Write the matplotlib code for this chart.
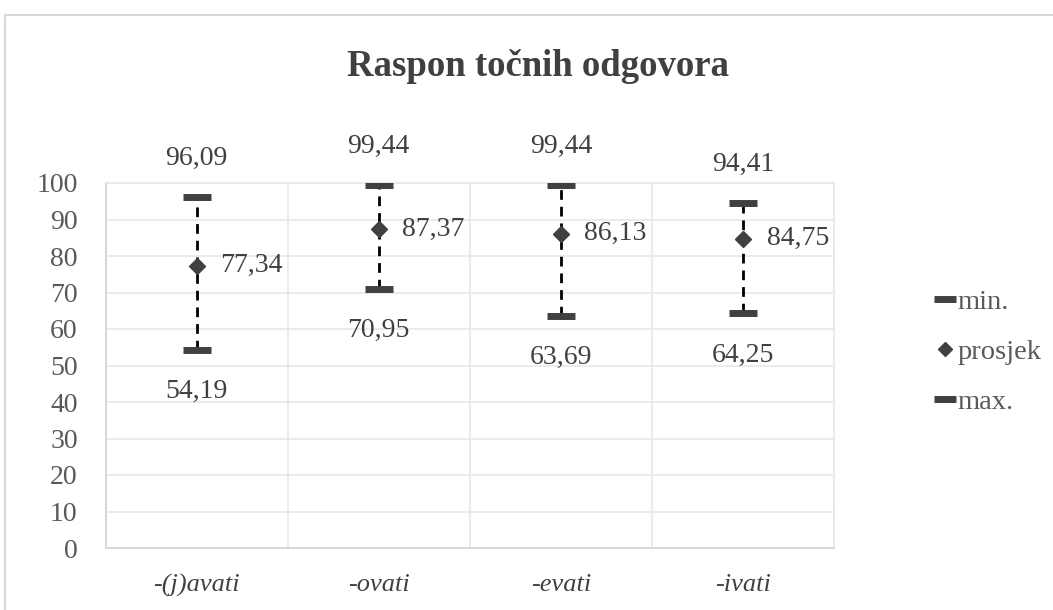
import matplotlib
matplotlib.use("Agg")
import matplotlib.pyplot as plt
from matplotlib.lines import Line2D
from matplotlib.patches import Rectangle

plt.rcParams['font.family'] = ['Liberation Serif', 'DejaVu Serif']

# data
categories = ['-(j)avati', '-ovati', '-evati', '-ivati']
min_vals = [54.19, 70.95, 63.69, 64.25]
avg_vals = [77.34, 87.37, 86.13, 84.75]
max_vals = [96.09, 99.44, 99.44, 94.41]
y_ticks = list(range(0, 101, 10))

W, H = 1053, 610
fig = plt.figure(figsize=(W / 100, H / 100), dpi=100)

# chart frame
fig.patches.append(Rectangle((5 / W, -0.1), 1.2, (H - 15) / H + 0.1, transform=fig.transFigure,
                             fill=False, edgecolor='#d9d9d9', linewidth=1.5))

left, right, top, bottom = 105.5, 834, 183, 548
ax = fig.add_axes([left / W, (H - bottom) / H, (right - left) / W, (bottom - top) / H])

x = list(range(len(categories)))
text_col = '#404040'
mark_col = '#404040'

def fmt(v):
    return f"{v:.2f}".replace('.', ',')

for i in x:
    ax.plot([i, i], [min_vals[i], max_vals[i]], color='black', linewidth=2,
            linestyle=(0, (3.5, 2.5)), zorder=3)

ax.plot(x, min_vals, linestyle='none', marker='_', markersize=20, markeredgewidth=5,
        color=mark_col, zorder=4)
ax.plot(x, max_vals, linestyle='none', marker='_', markersize=20, markeredgewidth=5,
        color=mark_col, zorder=4)
ax.plot(x, avg_vals, linestyle='none', marker='D', markersize=8, color=mark_col, zorder=5)

for i in x:
    ax.annotate(fmt(max_vals[i]), (i, max_vals[i]), xytext=(0, 28), textcoords='offset points',
                ha='center', va='center', fontsize=20, color=text_col)
    ax.annotate(fmt(min_vals[i]), (i, min_vals[i]), xytext=(0, -30), textcoords='offset points',
                ha='center', va='center', fontsize=20, color=text_col)
    ax.annotate(fmt(avg_vals[i]), (i, avg_vals[i]), xytext=(17, 0), textcoords='offset points',
                ha='left', va='center', fontsize=20, color=text_col)

ax.set_xlim(-0.5, len(categories) - 0.5)
ax.set_ylim(0, 100)
ax.set_yticks(y_ticks)
ax.set_xticks(x)
ax.set_xticklabels(categories, fontstyle='italic')
ax.set_xticks([i + 0.5 for i in x[:-1]], minor=True)
ax.tick_params(axis='y', length=0, pad=20, labelsize=20, labelcolor='#595959')
ax.tick_params(axis='x', which='both', length=0, pad=19, labelsize=19, labelcolor=text_col)
ax.grid(True, which='major', axis='y', color='#e8e8e8', linewidth=1.2)
ax.grid(True, which='minor', axis='x', color='#e8e8e8', linewidth=1.2)
ax.set_axisbelow(True)
for s in ['top', 'right']:
    ax.spines[s].set_color('#e8e8e8')
    ax.spines[s].set_linewidth(1.2)
for s in ['left', 'bottom']:
    ax.spines[s].set_color('#d9d9d9')
    ax.spines[s].set_linewidth(1.5)

fig.text(538 / W, 1 - 66 / H, 'Raspon točnih odgovora', ha='center', va='center',
         fontsize=26.5, fontweight='bold', color=text_col)

handles = [
    Line2D([], [], linestyle='none', marker='_', markersize=16, markeredgewidth=5, color=mark_col),
    Line2D([], [], linestyle='none', marker='D', markersize=7, color=mark_col),
    Line2D([], [], linestyle='none', marker='_', markersize=16, markeredgewidth=5, color=mark_col),
]
leg = fig.legend(handles, ['min.', 'prosjek', 'max.'], loc='center left',
                 bbox_to_anchor=(922 / W, 1 - 352 / H), frameon=False, fontsize=20.5,
                 handlelength=0.6, handletextpad=0.15, labelspacing=0.85, borderpad=0)
for t in leg.get_texts():
    t.set_color('#595959')

fig.savefig('out.png', dpi=100)
